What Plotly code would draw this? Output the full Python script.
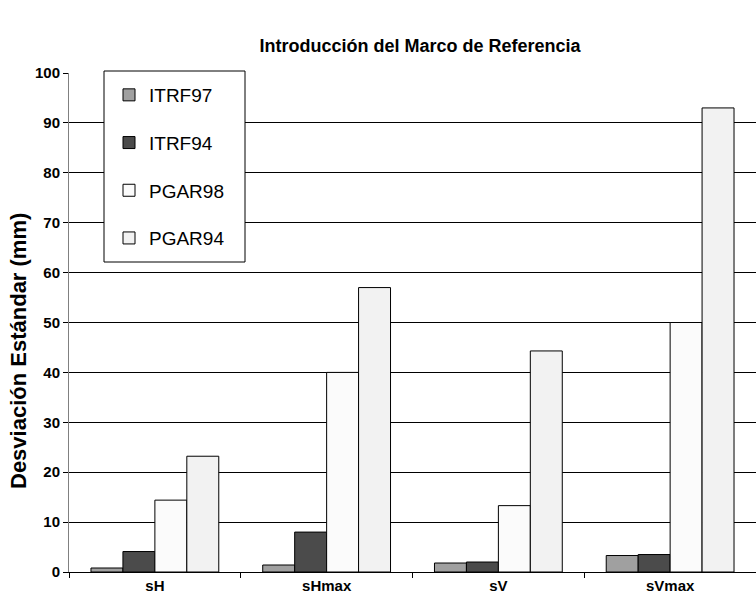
import plotly.graph_objects as go

categories = ["sH", "sHmax", "sV", "sVmax"]
series_names = ["ITRF97", "ITRF94", "PGAR98", "PGAR94"]
itrf97 = [0.8, 1.4, 1.8, 3.3]
itrf94 = [4.1, 8.0, 2.0, 3.5]
pgar98 = [14.4, 40.0, 13.3, 50.0]
pgar94 = [23.2, 57.0, 44.3, 93.0]
y_ticks = [0, 10, 20, 30, 40, 50, 60, 70, 80, 90, 100]

values = [itrf97, itrf94, pgar98, pgar94]
colors = ["#a0a0a0", "#4b4b4b", "#fbfbfb", "#f2f2f2"]

FONT = "Arial, Liberation Sans, sans-serif"

W, H = 756, 606
L, R, T, B = 69, 0, 73, 34
PW, PH = W - L - R, H - T - B


def px_x(x):
    return (x - L) / PW


def px_y(y):
    return (H - B - y) / PH


fig = go.Figure()
for name, vals, col in zip(series_names, values, colors):
    fig.add_trace(go.Bar(
        x=categories, y=vals, name=name, legendgroup=name,
        marker=dict(color=col, line=dict(color="#000000", width=1)),
    ))

fig.update_layout(
    width=W, height=H,
    margin=dict(l=L, r=R, t=T, b=B),
    paper_bgcolor="white", plot_bgcolor="white",
    barmode="group", bargap=0.256, bargroupgap=0,
    font=dict(family=FONT, color="#000000"),
    title=dict(text="<b>Introducción del Marco de Referencia</b>",
               x=420 / W, xref="container", xanchor="center",
               y=1 - 46 / H, yref="container", yanchor="middle",
               font=dict(size=18, family=FONT)),
    showlegend=True,
    legend=dict(
        x=px_x(109), xanchor="left",
        y=px_y(76), yanchor="top",
        bgcolor="rgba(0,0,0,0)", borderwidth=0,
        font=dict(size=19, family=FONT),
        tracegroupgap=20,
        itemclick=False,
    ),
    shapes=[dict(
        type="rect", xref="paper", yref="paper",
        x0=px_x(104), x1=px_x(245), y0=px_y(262), y1=px_y(71),
        fillcolor="white", line=dict(color="#000000", width=1),
        layer="above",
    )],
    xaxis=dict(
        showline=True, linecolor="#000000", linewidth=1,
        ticks="outside", tickson="boundaries", ticklen=5, tickcolor="#000000",
        tickfont=dict(size=15, family=FONT),
        tickvals=categories, ticktext=[f"<b>{c}</b>" for c in categories],
        showgrid=False, fixedrange=True,
    ),
    yaxis=dict(
        range=[0, 100], tickvals=y_ticks,
        ticktext=[f"<b>{v}</b>" for v in y_ticks],
        tickfont=dict(size=15, family=FONT),
        showline=True, linecolor="#808080", linewidth=1,
        ticks="outside", ticklen=5, tickcolor="#000000",
        showgrid=True, gridcolor="#000000", gridwidth=1,
        zeroline=False, fixedrange=True,
    ),
    annotations=[dict(
        text="<b>Desviación Estándar (mm)</b>",
        textangle=-90, showarrow=False,
        xref="paper", yref="paper",
        x=px_x(18), y=px_y(351),
        xanchor="center", yanchor="middle",
        font=dict(size=22, family=FONT),
    )],
)

fig.write_html("out.html", post_script="document.body.style.margin='0';",
               config={"displayModeBar": False})
